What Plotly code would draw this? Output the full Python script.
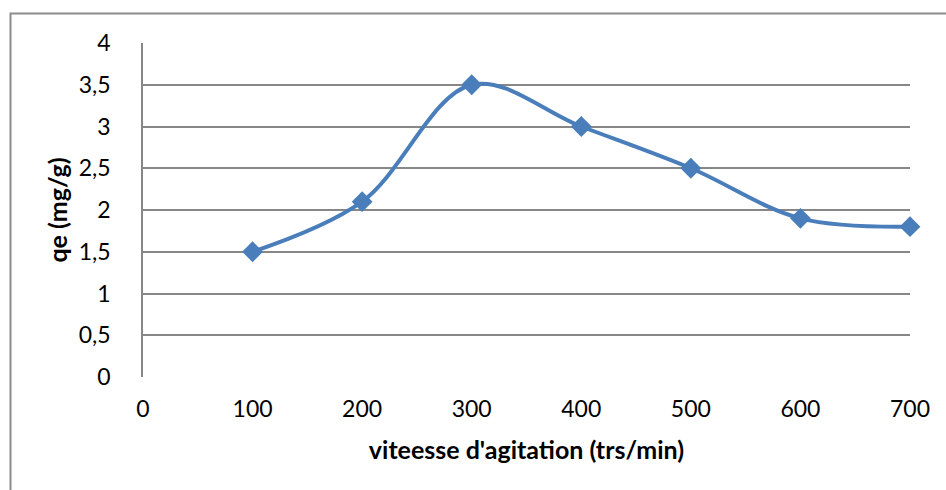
import plotly.graph_objects as go

speed = [100, 200, 300, 400, 500, 600, 700]
qe = [1.5, 2.1, 3.5, 3.0, 2.5, 1.9, 1.8]
x_ticks = [0, 100, 200, 300, 400, 500, 600, 700]
y_ticks = [0, 0.5, 1, 1.5, 2, 2.5, 3, 3.5, 4]

W, H = 946, 490
L, R, T, B = 143, 910, 43, 377

fig = go.Figure()
fig.add_trace(go.Scatter(
    x=speed, y=qe, mode="lines+markers",
    line=dict(color="#4A7EBB", width=4, shape="spline", smoothing=1.0),
    marker=dict(symbol="diamond", size=16, color="#4A7EBB"),
    showlegend=False, hoverinfo="x+y", cliponaxis=False,
))

pw, ph = R - L, B - T
fig.add_shape(type="rect", xref="paper", yref="paper",
              x0=(10.5 - L) / pw, x1=(960 - L) / pw,
              y0=(B - 520) / ph, y1=1 + (T - 13.5) / ph,
              line=dict(color="#8C8C8C", width=2), layer="below")

fig.update_layout(
    width=W, height=H,
    margin=dict(l=L, r=W - R, t=T, b=H - B),
    paper_bgcolor="white", plot_bgcolor="white",
    separators=", ",
    font=dict(family="Lato, Open Sans, sans-serif", size=23, color="#000000"),
    xaxis=dict(range=[0, 700], tickvals=x_ticks, showgrid=False,
               zeroline=False, showline=False, ticks="",
               ticklabelstandoff=16,
               title=dict(text="<b>viteesse d'agitation (trs/min)</b>",
                          font=dict(size=25), standoff=20)),
    yaxis=dict(range=[0, 4], tickvals=y_ticks, showgrid=True,
               gridcolor="#878787", gridwidth=1.5,
               zeroline=False, showline=True, linecolor="#878787", linewidth=1.5,
               ticks="", ticklabelstandoff=26,
               title=dict(text="<b>qe (mg/g)</b>", font=dict(size=25), standoff=4)),
)
fig.write_html("out.html")
